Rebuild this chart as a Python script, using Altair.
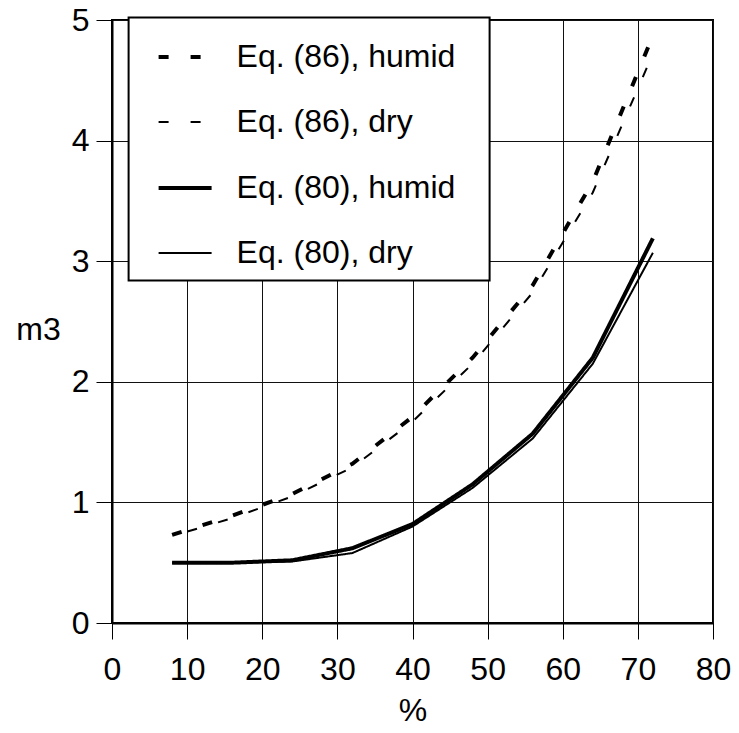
import altair as alt
import pandas as pd

# ---- data ----
x_pct = [8, 16, 24, 32, 40, 48, 56, 64, 72]
eq86_humid = [0.73, 0.89, 1.07, 1.32, 1.71, 2.20, 2.80, 3.66, 4.87]
eq86_dry = [0.72, 0.87, 1.05, 1.29, 1.67, 2.15, 2.74, 3.57, 4.72]
eq80_humid = [0.50, 0.50, 0.52, 0.62, 0.82, 1.15, 1.57, 2.20, 3.19]
eq80_dry = [0.50, 0.50, 0.51, 0.58, 0.80, 1.12, 1.53, 2.15, 3.07]

series_names = ["Eq. (86), humid", "Eq. (86), dry", "Eq. (80), humid", "Eq. (80), dry"]
series_values = [eq86_humid, eq86_dry, eq80_humid, eq80_dry]

x_ticks = [0, 10, 20, 30, 40, 50, 60, 70, 80]
y_ticks = [0, 1, 2, 3, 4, 5]

# styles
dash_range = [[10, 22], [10, 22], [1, 0], [1, 0]]
width_range = [4, 2, 4, 2]
dash_offsets = [0, 16, 0, 0]

rows = []
for name, vals in zip(series_names, series_values):
    for xv, yv in zip(x_pct, vals):
        rows.append({"x": xv, "y": yv, "series": name})
df = pd.DataFrame(rows)

FONT = "Liberation Sans"

# blank trailing glyphs widen the legend frame to the reference's width
legend = alt.Legend(
    title=None,
    labelExpr="datum.label + '\u2800'",
)

x_enc = alt.X(
    "x:Q",
    scale=alt.Scale(domain=[0, 80], nice=False),
    axis=alt.Axis(
        values=x_ticks, title="%", labelFlush=False, labelOverlap=False,
        labelBaseline="alphabetic", labelPadding=40,
        titleBaseline="alphabetic", titleY=97,
    ),
)
y_enc = alt.Y(
    "y:Q",
    scale=alt.Scale(domain=[0, 5], nice=False),
    axis=alt.Axis(
        values=y_ticks, title="m3", labelFlush=False, labelOverlap=False,
        labelPadding=7, titleAngle=0, titleAlign="center",
        titleBaseline="alphabetic", titleX=-74, titleY=319,
    ),
)
dash_enc = alt.StrokeDash(
    "series:N",
    scale=alt.Scale(domain=series_names, range=dash_range),
    legend=legend,
)
width_enc = alt.StrokeWidth(
    "series:N",
    scale=alt.Scale(type="ordinal", domain=series_names, range=width_range),
    legend=legend,
)

layers = []
for name, off in zip(series_names, dash_offsets):
    layers.append(
        alt.Chart(df[df["series"] == name])
        .mark_line(color="black", strokeDashOffset=off)
        .encode(x=x_enc, y=y_enc, strokeDash=dash_enc, strokeWidth=width_enc)
    )

chart = (
    alt.layer(*layers)
    .properties(
        width=601,
        height=603,
        autosize=alt.AutoSizeParams(type="none"),
        padding={"left": 104, "top": 12, "right": 18, "bottom": 102},
    )
    .configure(font=FONT)
    .configure_view(stroke="black", strokeWidth=2)
    .configure_axis(
        grid=True, gridColor="#111111", gridWidth=1,
        domainColor="black", domainWidth=2,
        tickColor="black", tickWidth=1, tickSize=16,
        labelFont=FONT, labelFontSize=32, labelColor="black",
        titleFont=FONT, titleFontSize=32, titleFontWeight="normal", titleColor="black",
    )
    .configure_legend(
        orient="none", legendX=16.6, legendY=-2.5,
        padding=11, symbolOffset=17, labelOffset=23, rowPadding=21,
        strokeColor="black", strokeWidth=2, fillColor="white", labelLimit=0,
        labelFont=FONT, labelFontSize=32, labelColor="black",
        symbolType="stroke", symbolSize=2809, symbolStrokeColor="black",
    )
)

chart.save("out.html", embed_options={"renderer": "svg", "actions": False})
